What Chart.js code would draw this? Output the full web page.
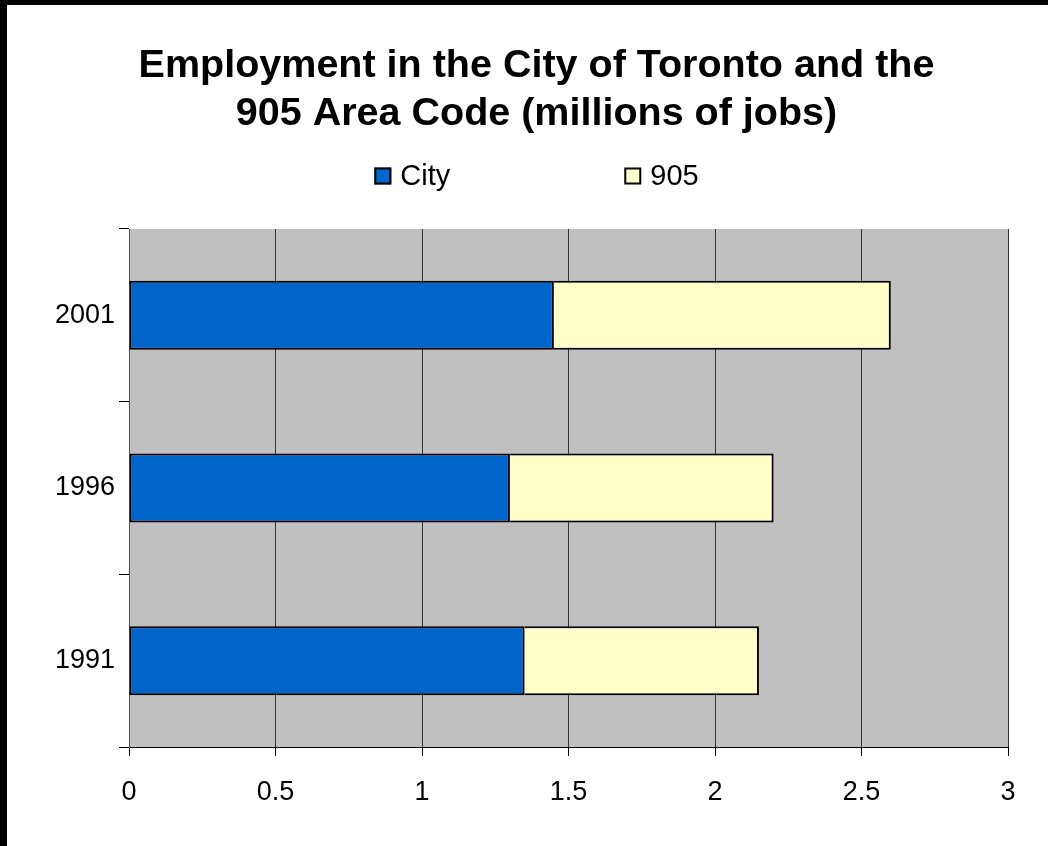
<!DOCTYPE html>
<html>
<head>
<meta charset="utf-8">
<title>Employment in the City of Toronto and the 905 Area Code</title>
<script src="https://cdn.jsdelivr.net/npm/chart.js@4.4.1/dist/chart.umd.min.js"></script>
<style>
  html, body { margin: 0; padding: 0; background: #fff; }
  .frame {
    width: 1048px; height: 846px; box-sizing: border-box;
    border-left: 7px solid #000; border-top: 5px solid #000;
  }
  .frame canvas { display: block; }
</style>
</head>
<body>
<div class="frame"><canvas id="jobsChart" width="1041" height="841"></canvas></div>
<script>
// employment, millions of jobs
const years = ['1991', '1996', '2001'];
const cityJobs = [1.35, 1.30, 1.45];
const areaJobs = [0.80, 0.90, 1.15];
const xTicks = [0, 0.5, 1, 1.5, 2, 2.5, 3];

const FONT = '"Liberation Sans", Arial, sans-serif';

// grey plot background
const plotBackground = {
    id: 'plotBackground',
    beforeDraw(chart) {
        const { ctx, chartArea: a } = chart;
        ctx.save();
        ctx.fillStyle = '#c0c0c0';
        ctx.fillRect(a.left, a.top, a.right - a.left, a.bottom - a.top);
        ctx.restore();
    }
};

// title centred a little right of the canvas middle
const titleOffset = {
    id: 'titleOffset',
    afterLayout(chart) {
        chart.titleBlock.left = 58;
    }
};

// legend with wide spacing between the two entries
const spacedLegend = {
    id: 'spacedLegend',
    afterDraw(chart) {
        const ctx = chart.ctx;
        const t = chart.titleBlock;
        const cx = (t.left + t.right) / 2;
        const y = 171;
        const box = 17, gap = 9, spacing = 174;
        ctx.save();
        ctx.font = '29px ' + FONT;
        ctx.textBaseline = 'middle';
        ctx.textAlign = 'left';
        const items = chart.data.datasets.map(ds => ({
            text: ds.label,
            fill: ds.backgroundColor,
            w: ctx.measureText(ds.label).width
        }));
        const total = items.reduce((s, it) => s + box + gap + it.w, 0) + spacing * (items.length - 1);
        let x = cx - total / 2;
        items.forEach(it => {
            ctx.fillStyle = it.fill;
            ctx.fillRect(x, y - box / 2, box, box);
            ctx.lineWidth = 2;
            ctx.strokeStyle = '#000';
            ctx.strokeRect(x + 1, y - box / 2 + 1, box - 2, box - 2);
            ctx.fillStyle = '#000';
            ctx.fillText(it.text, x + box + gap, y + 1);
            x += box + gap + it.w + spacing;
        });
        ctx.restore();
    }
};

const ctx = document.getElementById('jobsChart').getContext('2d');

new Chart(ctx, {
    type: 'bar',
    data: {
        labels: years,
        datasets: [{
            label: 'City',
            data: cityJobs,
            backgroundColor: '#0066cc',
            borderColor: '#000',
            borderWidth: 2,
            borderSkipped: false
        }, {
            label: '905',
            data: areaJobs,
            backgroundColor: '#ffffcc',
            borderColor: '#000',
            borderWidth: 2,
            borderSkipped: 'start'
        }]
    },
    options: {
        indexAxis: 'y',
        responsive: false,
        animation: false,
        categoryPercentage: 1,
        barPercentage: 0.4,
        layout: { padding: { left: 20, right: 40, top: 0, bottom: 0 } },
        plugins: {
            legend: { display: false },
            tooltip: { enabled: false },
            title: {
                display: true,
                text: ['Employment in the City of Toronto and the', '905 Area Code (millions of jobs)'],
                color: '#000',
                font: { family: FONT, size: 39.5, weight: 'bold', lineHeight: '48px' },
                padding: { top: 37, bottom: 91 }
            }
        },
        scales: {
            x: {
                stacked: true,
                min: 0,
                max: 3,
                afterBuildTicks: s => { s.ticks = xTicks.map(v => ({ value: v })); },
                afterFit: s => { s.height = 99; },
                grid: { color: '#333', tickColor: '#000', tickLength: 9 },
                border: { display: true, color: '#000', width: 1 },
                ticks: {
                    color: '#000',
                    padding: 20,
                    font: { family: FONT, size: 27 },
                    callback: v => String(v)
                }
            },
            y: {
                stacked: true,
                reverse: true,
                afterFit: s => { s.width = 102; },
                grid: { offset: true, drawOnChartArea: false, color: '#000', tickLength: 10 },
                border: { display: true, color: '#555', width: 1 },
                ticks: {
                    color: '#000',
                    padding: 4,
                    font: { family: FONT, size: 27 }
                }
            }
        }
    },
    plugins: [plotBackground, titleOffset, spacedLegend]
});
</script>
</body>
</html>
